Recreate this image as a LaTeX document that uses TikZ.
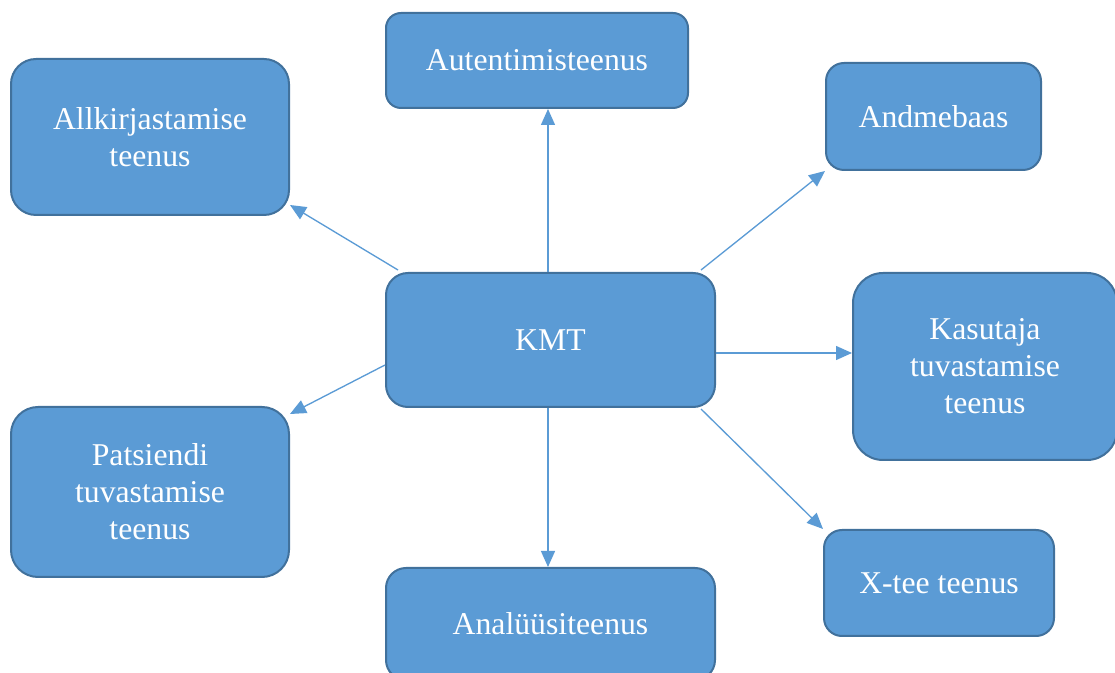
\documentclass[tikz,border=0pt]{standalone}
\usepackage{fontspec}
\setmainfont{Liberation Serif}
\usetikzlibrary{arrows.meta,calc}
\definecolor{boxfill}{HTML}{5B9BD5}
\definecolor{boxline}{HTML}{41719C}
\tikzset{
  box/.style={draw=boxline, fill=boxfill, line width=1.5pt, text=white,
    align=center, inner sep=0pt, font=\fontsize{23.8}{27.8}\selectfont},
  conn/.style={draw=boxfill, line width=1pt, -{Triangle[length=12pt,width=10.5pt]}}
}
\begin{document}
\begin{tikzpicture}[x=0.75pt,y=-0.75pt]
\useasboundingbox (0,0) rectangle (1115,673);
\clip (0,0) rectangle (1115,673);
\node[box, minimum width=302*0.75pt, minimum height=95*0.75pt, rounded corners=15*0.75pt] (aut) at (537,60.5) {Autentimisteenus};
\node[box, minimum width=278*0.75pt, minimum height=156*0.75pt, rounded corners=25*0.75pt] (all) at (150,137) {Allkirjastamise\\teenus};
\node[box, minimum width=215*0.75pt, minimum height=107*0.75pt, rounded corners=18*0.75pt] (and) at (933.5,116.5) {Andmebaas};
\node[box, minimum width=329*0.75pt, minimum height=134*0.75pt, rounded corners=22*0.75pt] (kmt) at (550.5,340) {KMT};
\node[box, minimum width=264*0.75pt, minimum height=187*0.75pt, rounded corners=30*0.75pt] (kas) at (985,366.5) {Kasutaja\\tuvastamise\\teenus};
\node[box, minimum width=278*0.75pt, minimum height=170*0.75pt, rounded corners=27*0.75pt] (pat) at (150,492) {Patsiendi\\tuvastamise\\teenus};
\node[box, minimum width=329*0.75pt, minimum height=112*0.75pt, rounded corners=20*0.75pt] (ana) at (550.5,624) {Analüüsiteenus};
\node[box, minimum width=230*0.75pt, minimum height=106*0.75pt, rounded corners=18*0.75pt] (xtee) at (939,583) {X-tee teenus};
\draw[conn] ($(kmt.north)+(-2.5,0)$) -- ($(aut.south)+(11,0)$);
\draw[conn] ($(kmt.north west)+(13,-2)$) -- ($(all.south east)+(0,-11)$);
\draw[conn] ($(kmt.north east)+(-15,-2)$) -- (and.south west);
\draw[conn] ($(kmt.east)+(0,13)$) -- ($(kas.west)+(0,-13.5)$);
\draw[conn] ($(kmt.west)+(0,25)$) -- ($(pat.north east)+(0,8)$);
\draw[conn] ($(kmt.south)+(-2.5,0)$) -- ($(ana.north)+(-2.5,0)$);
\draw[conn] ($(kmt.south east)+(-15,1)$) -- (xtee.north west);
\end{tikzpicture}
\end{document}
